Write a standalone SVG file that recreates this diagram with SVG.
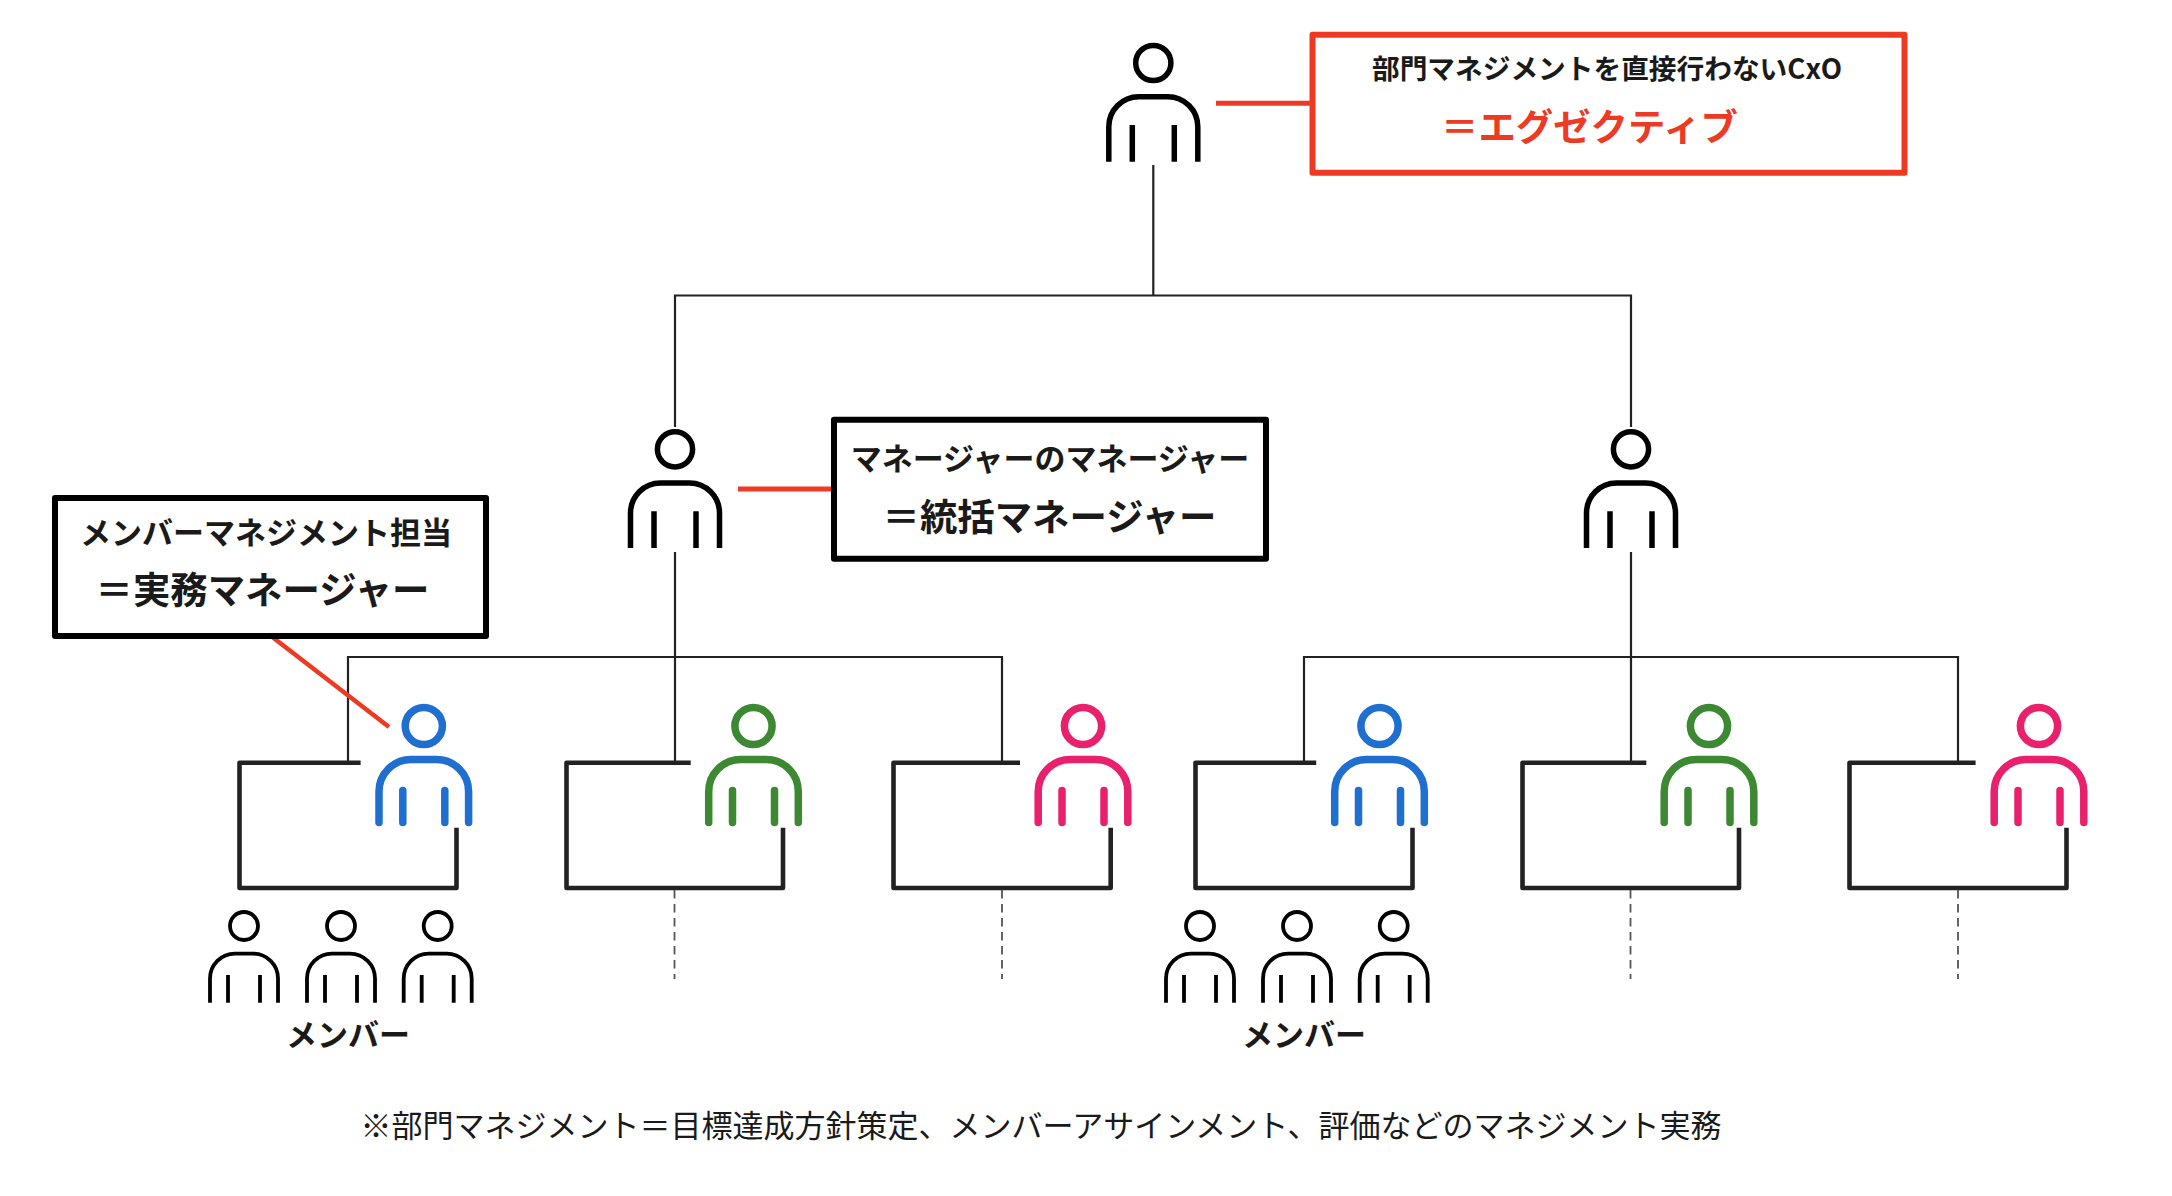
<svg xmlns="http://www.w3.org/2000/svg" xmlns:xlink="http://www.w3.org/1999/xlink" width="2172" height="1196" viewBox="0 0 2172 1196">
<style>
text{font-family:"Noto Sans CJK JP","Noto Sans",sans-serif;text-anchor:middle;fill:#1a1a1a}
.s{font-size:27.700px;font-weight:700}
.m{font-size:31px;font-weight:700}
.b{font-size:37.400px;font-weight:700}
.red{fill:#ee3a22}
.note{font-size:31px;font-weight:400}
.mem{font-size:31px;font-weight:700}
.p{fill:none}
.k{stroke:#000}
.blue{stroke:#1f6fd0}.green{stroke:#3d8832}.pink{stroke:#e9206b}
.box{fill:#fff;stroke-width:6;stroke-linejoin:round}
.thin{fill:none;stroke:#222;stroke-width:2.2}
.grp{fill:none;stroke:#222;stroke-width:4.600;stroke-linejoin:round}
.dash{fill:none;stroke:#555;stroke-width:1.8;stroke-dasharray:8.500 5.500}
.rl{fill:none;stroke:#ee3a22;stroke-width:4.5}
</style>
<defs>
<g id="big" class="p" stroke-width="5.5">
<circle cx="0" cy="20.3" r="17.6"/>
<path d="M-44.5 119V84A30 30 0 0 1-14.5 54H14.5A30 30 0 0 1 44.5 84V119M-21 82.300V119M21 82.300V119"/>
</g>
<g id="col" class="p" stroke-width="7.500" stroke-linecap="round">
<circle cx="0" cy="726" r="18.6"/>
<path d="M-44.800 822.500V791.500A32 32 0 0 1-12.800 759.500H12.800A32 32 0 0 1 44.800 791.500V822.500M-21 790.500V822.500M21 790.500V822.500"/>
</g>
<g id="mem" class="p k" stroke-width="3.800">
<circle cx="0" cy="926" r="14"/>
<path d="M-34 1002.700V978.600A25 25 0 0 1-9 953.600H9A25 25 0 0 1 34 978.600V1002.700M-16 975V1002.700M16 975V1002.700"/>
</g>
</defs>

<g id="connectors">
<path class="thin" d="M1153.300 165V295.500M675 427V295.500H1631V427"/>
<path class="thin" d="M675 552V761M348 762V657H1002V762"/>
<path class="thin" d="M1631 552V761M1304 762V657H1958V762"/>
<path class="grp" d="M360.600 762.700H239.500V888H456.500V827.700"/>
<path class="grp" d="M690.700 762.700H566.500V888H783V827.700"/>
<path class="grp" d="M1020 762.700H893.500V888H1110.700V827.700"/>
<path class="grp" d="M1316.200 762.700H1195.500V888H1412.500V827.700"/>
<path class="grp" d="M1646.300 762.700H1522.500V888H1739V827.700"/>
<path class="grp" d="M1975.600 762.700H1849.500V888H2066.500V827.700"/>
<path class="dash" d="M674.500 890V979M1002 890V979M1630.500 890V979M1958 890V979"/>
<path class="rl" style="stroke-width:5" d="M1216 103.300H1312M738 489H834"/>
<path class="rl" d="M271 636L389 727"/>
</g>

<g id="person-exec"><use href="#big" class="k" transform="translate(1153.300 42.700)"/></g>
<g id="person-mgr-1"><use href="#big" class="k" transform="translate(675 429)"/></g>
<g id="person-mgr-2"><use href="#big" class="k" transform="translate(1631 429)"/></g>
<g id="person-blue-1"><use href="#col" class="blue" x="423.800"/></g>
<g id="person-green-1"><use href="#col" class="green" x="753.500"/></g>
<g id="person-pink-1"><use href="#col" class="pink" x="1083"/></g>
<g id="person-blue-2"><use href="#col" class="blue" x="1379.500"/></g>
<g id="person-green-2"><use href="#col" class="green" x="1709"/></g>
<g id="person-pink-2"><use href="#col" class="pink" x="2039"/></g>

<g id="members-1">
<use href="#mem" x="244"/><use href="#mem" x="341"/><use href="#mem" x="437.700"/>
<text class="mem" x="348" y="1046">メンバー</text>
</g>
<g id="members-2">
<use href="#mem" x="1200"/><use href="#mem" x="1297"/><use href="#mem" x="1393.700"/>
<text class="mem" x="1304" y="1046">メンバー</text>
</g>

<g id="box-exec">
<rect class="box" x="1312.500" y="34.700" width="592" height="138" stroke="#ee3a22"/>
<text class="s" x="1607" y="79">部門マネジメントを直接行わないCxO</text>
<text class="b red" x="1589.500" y="141">＝エグゼクティブ</text>
</g>
<g id="box-general">
<rect class="box" x="834" y="419.700" width="432" height="139" stroke="#000"/>
<text class="m" x="1050" y="469.500">マネージャーのマネージャー</text>
<text class="b" x="1049.500" y="531">＝統括マネージャー</text>
</g>
<g id="box-practical">
<rect class="box" x="55" y="498" width="431" height="138" stroke="#000"/>
<text class="m" x="266" y="544">メンバーマネジメント担当</text>
<text class="b" x="262.500" y="604">＝実務マネージャー</text>
</g>
<text class="note" x="1041" y="1137">※部門マネジメント＝目標達成方針策定、メンバーアサインメント、評価などのマネジメント実務</text>
</svg>
